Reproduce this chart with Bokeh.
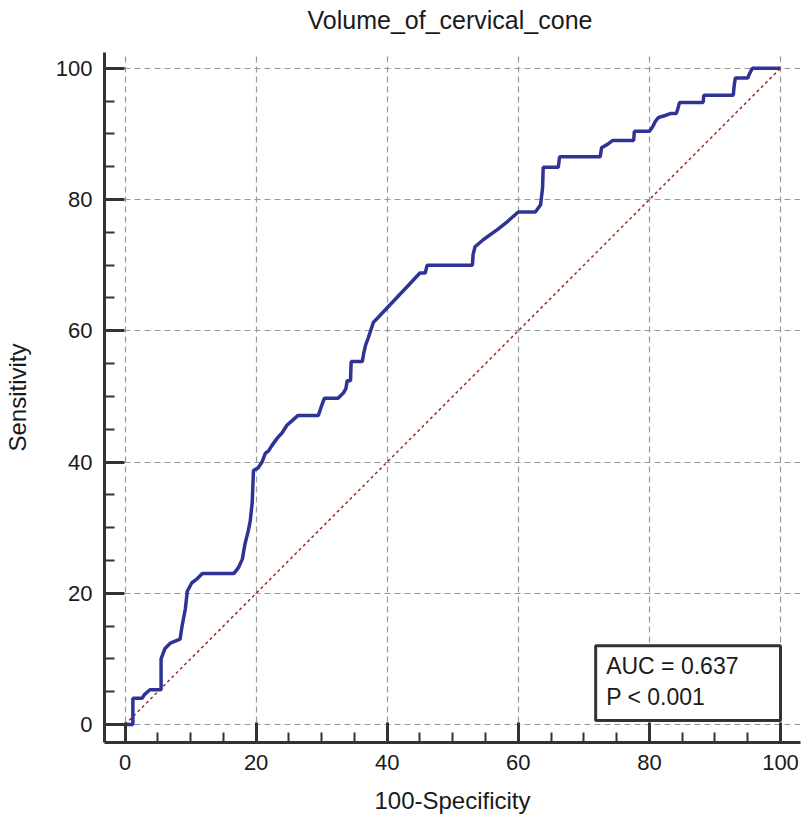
from bokeh.plotting import figure
from bokeh.models import (ColumnDataSource, Range1d, SingleIntervalTicker,
                          BoxAnnotation, Label, Div)
from bokeh.layouts import column
from bokeh.embed import file_html
from bokeh.resources import INLINE

# ---- data ----
fpr = [0, 1.2, 1.2, 2.6, 3.0, 3.8, 5.5, 5.5, 6.1, 6.9, 8.4, 8.7, 9.2, 9.5, 10.2, 11.0,
       11.8, 16.6, 17.3, 17.9, 18.3, 18.8, 19.1, 19.4, 19.6, 20.3, 20.9, 21.4, 21.9,
       22.4, 23.2, 24.0, 24.7, 25.5, 26.4, 29.5, 30.0, 30.4, 32.5, 33.3, 33.7, 33.9,
       34.4, 34.5, 36.2, 36.4, 36.7, 37.1, 37.5, 37.9, 38.5, 45.0, 45.8, 46.1, 53.0,
       53.1, 53.4, 54.7, 56.8, 58.3, 59.2, 60.0, 62.6, 63.4, 63.7, 63.8, 66.1, 66.3,
       72.5, 72.7, 73.6, 74.4, 77.6, 77.7, 80.0, 80.5, 80.9, 81.4, 82.4, 83.2, 84.1,
       84.3, 84.6, 88.2, 88.3, 92.8, 92.9, 93.1, 95.0, 95.2, 95.7, 100]
tpr = [0, 0, 4.0, 4.0, 4.6, 5.3, 5.3, 10.0, 11.6, 12.4, 13.0, 15.0, 17.6, 20.3, 21.6, 22.2,
       23.0, 23.0, 23.9, 25.2, 27.5, 29.5, 31.0, 33.8, 38.7, 39.1, 40.0, 41.3, 41.7,
       42.5, 43.6, 44.5, 45.6, 46.3, 47.1, 47.1, 48.6, 49.7, 49.7, 50.5, 51.2, 52.4,
       52.4, 55.3, 55.3, 56.5, 57.8, 58.9, 60.1, 61.3, 61.9, 68.8, 68.8, 70.0, 70.0,
       71.6, 72.8, 73.9, 75.4, 76.6, 77.4, 78.1, 78.1, 79.2, 81.8, 84.9, 84.9, 86.5,
       86.5, 87.9, 88.4, 89.0, 89.0, 90.4, 90.4, 91.1, 91.9, 92.5, 92.8, 93.1, 93.1,
       93.7, 94.8, 94.8, 95.9, 95.9, 97.1, 98.5, 98.5, 99.0, 100, 100]
ref_x = [0, 100]
ref_y = [0, 100]
title_text = "Volume_of_cervical_cone"
x_label = "100-Specificity"
y_label = "Sensitivity"
auc_text = "AUC = 0.637"
p_text = "P < 0.001"

FONT = "Liberation Sans"
DARK = "#333333"
TITLE_H = 40

title_div = Div(text=title_text, width=700, height=TITLE_H, margin=(0, 0, 0, 100),
                styles={"font-family": FONT, "font-size": "25px", "color": "#1a1a1a",
                        "text-align": "center", "line-height": f"{TITLE_H}px",
                        "width": "700px", "display": "block"})

p = figure(width=804, height=822 - TITLE_H, output_backend="svg", toolbar_location=None,
           x_range=Range1d(-3.13, 103.05), y_range=Range1d(-2.74, 102.4),
           min_border_left=104, min_border_right=4, min_border_top=52 - TITLE_H,
           min_border_bottom=80, outline_line_color=None, margin=(0, 0, 0, 0))

# grid
for g in (p.xgrid, p.ygrid):
    g.grid_line_color = "#999999"
    g.grid_line_dash = "6 4"
    g.grid_line_width = 1.2

for ax, lab in ((p.xaxis, x_label), (p.yaxis, y_label)):
    ax.ticker = SingleIntervalTicker(interval=20, num_minor_ticks=4)
    ax.axis_label = lab
    ax.axis_label_text_font = FONT
    ax.axis_label_text_font_size = "24px"
    ax.axis_label_text_font_style = "normal"
    ax.axis_label_text_color = "#1a1a1a"
    ax.major_label_text_font = FONT
    ax.major_label_text_font_size = "22px"
    ax.major_label_text_color = "#1a1a1a"
    ax.axis_line_color = DARK
    ax.axis_line_width = 3
    ax.major_tick_line_color = DARK
    ax.major_tick_line_width = 3
    ax.major_tick_in = 20
    ax.major_tick_out = 0
    ax.minor_tick_line_color = DARK
    ax.minor_tick_line_width = 2
    ax.minor_tick_in = 10
    ax.minor_tick_out = 0
    ax.major_label_standoff = 12

p.xaxis.axis_label_standoff = 14
p.yaxis.axis_label_standoff = 22

# diagonal reference
p.line(ref_x, ref_y, line_color="#a02828", line_width=1.5, line_dash="3 3")

# ROC curve
src = ColumnDataSource(dict(x=fpr, y=tpr))
p.line("x", "y", source=src, line_color="#2f3396", line_width=3.5)

# AUC box
box = BoxAnnotation(left=71.8, right=100, bottom=0.6, top=12.0,
                    fill_color="white", fill_alpha=1.0,
                    line_color=DARK, line_alpha=1.0, line_width=3)
p.add_layout(box)
p.add_layout(Label(x=73.4, y=6.9, text=auc_text, text_font=FONT,
                   text_font_size="23px", text_color="#1a1a1a",
                   text_baseline="bottom"))
p.add_layout(Label(x=73.4, y=2.2, text=p_text, text_font=FONT,
                   text_font_size="23px", text_color="#1a1a1a",
                   text_baseline="bottom"))

layout = column(title_div, p, spacing=0, margin=(0, 0, 0, 0))
open("out.html", "w").write(file_html(layout, INLINE))
